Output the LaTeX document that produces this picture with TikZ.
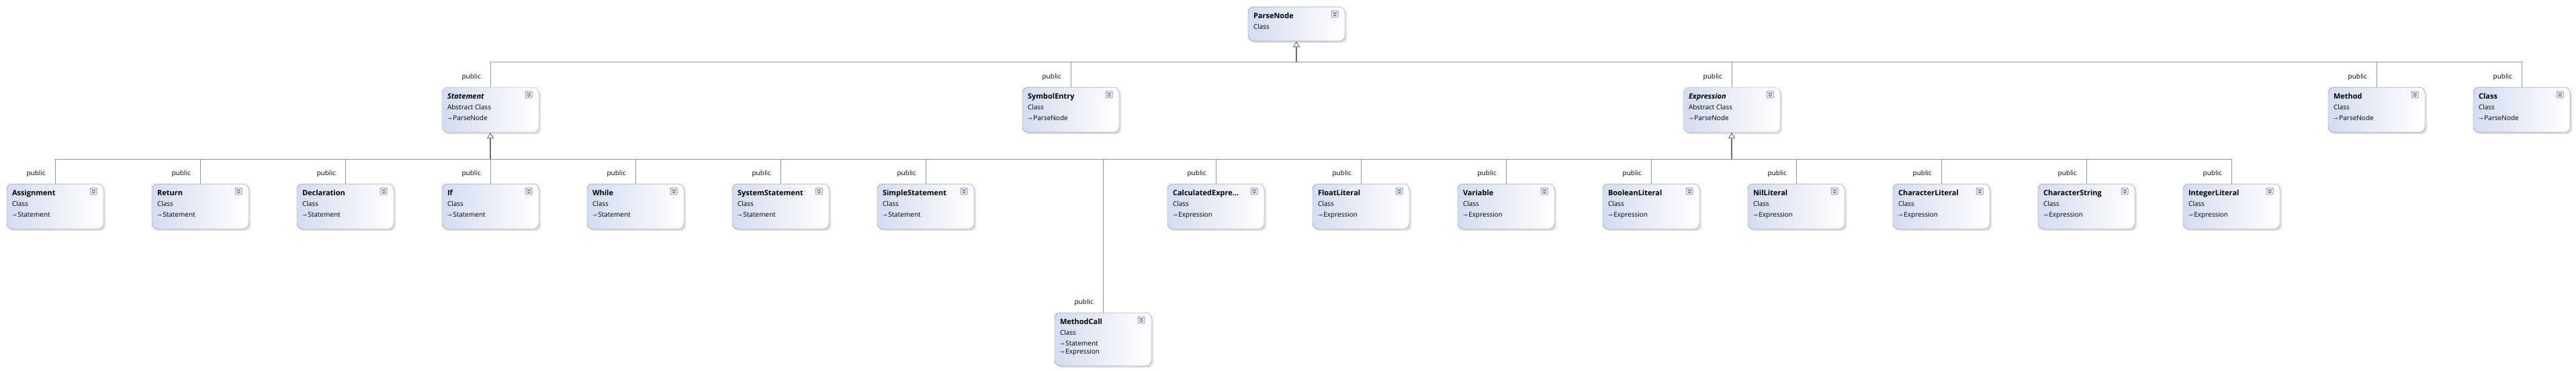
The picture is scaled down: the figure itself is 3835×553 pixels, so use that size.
\documentclass[tikz,border=0pt]{standalone}
\usepackage{fontspec}
\setmainfont{Open Sans}
\newfontfamily\arrowfont{DejaVu Sans}
\usetikzlibrary{positioning,arrows.meta,shadows}

\definecolor{boxfill}{RGB}{212,220,240}
\definecolor{boxline}{RGB}{128,128,128}
\definecolor{wirecol}{RGB}{150,150,150}
\definecolor{stemcol}{RGB}{110,110,105}
\definecolor{iconline}{RGB}{120,140,185}
\definecolor{iconfill}{RGB}{236,241,251}

\newcommand{\inh}{{\arrowfont\fontsize{8}{8}\selectfont ⇾}\,}
\newcommand{\cut}{...}
\newcommand{\cls}[2]{\parbox[t]{128pt}{\raggedright\rule{0pt}{17pt}{\fontsize{11}{16}\selectfont\bfseries #1}\\#2\rule[-18pt]{0pt}{18pt}}}

\tikzset{
	cls/.style={draw=boxline, rounded corners=8pt, left color=boxfill, right color=white,
		inner xsep=8pt, inner ysep=0pt, minimum width=144pt, font=\fontsize{10}{16}\selectfont,
		drop shadow={shadow xshift=3pt, shadow yshift=-3pt, fill=black!25}},
	abstract/.style={cls, dash pattern=on 2pt off 1.5pt},
	wire/.style={draw=wirecol, line width=1pt},
	stem/.style={draw=stemcol, line width=2pt, {Triangle[open, length=9pt, width=10pt, line width=1pt]}-},
	pub/.style={font=\fontsize{10}{12}\selectfont, inner sep=1pt},
	expander/.pic={
		\draw[iconline, fill=iconfill, rounded corners=1.5pt, line width=0.8pt] (-5pt,-5pt) rectangle (5pt,5pt);
		\draw[iconline!60!black, line width=0.9pt] (-2.5pt,2.8pt) -- (0pt,0.6pt) -- (2.5pt,2.8pt)
			(-2.5pt,-0.6pt) -- (0pt,-2.8pt) -- (2.5pt,-0.6pt);
	}
}

\begin{document}
\begin{tikzpicture}[x=1pt, y=-1pt]
	\useasboundingbox (0,0) rectangle (3835,553);

	% root
	\node[cls, anchor=north] (parse) at (1930,10) {\cls{ParseNode}{Class}};
	\coordinate (topbus) at (1930,93);
	\draw[stem] (parse.south) -- (topbus);

	% second row
	\node[abstract, anchor=north] (stmt) at (730,130) {\cls{\itshape Statement}{Abstract Class\\\inh ParseNode}};
	\node[cls, anchor=north] (sym) at (1594,130) {\cls{SymbolEntry}{Class\\\inh ParseNode}};
	\node[abstract, anchor=north] (expr) at (2578,130) {\cls{\itshape Expression}{Abstract Class\\\inh ParseNode}};
	\node[cls, anchor=north] (meth) at (3538,130) {\cls{Method}{Class\\\inh ParseNode}};
	\node[cls, anchor=north] (klass) at (3754,130) {\cls{Class}{Class\\\inh ParseNode}};
	\foreach \nm in {stmt,sym,expr,meth,klass}{
		\draw[wire] (\nm.north) |- (topbus);
		\node[pub, above left=9pt and 13pt of \nm.north] (p\nm) {public};
	}

	\coordinate (stmtbus) at (730,238);
	\coordinate (exprbus) at (2578,238);
	\draw[stem] (stmt.south) -- (stmtbus);
	\draw[stem] (expr.south) -- (exprbus);

	% third row
	\foreach \nm/\x/\cn/\bs in {asg/82/Assignment/stmt, ret/298/Return/stmt, decl/514/Declaration/stmt,
		ifst/730/If/stmt, whl/946/While/stmt, sysst/1162/SystemStatement/stmt, simst/1378/SimpleStatement/stmt,
		calc/1810/CalculatedExpre\cut/expr, flt/2026/FloatLiteral/expr, var/2242/Variable/expr,
		bool/2458/BooleanLiteral/expr, nil/2674/NilLiteral/expr, chr/2890/CharacterLiteral/expr,
		str/3106/CharacterString/expr, int/3322/IntegerLiteral/expr}{
		\node[cls, anchor=north] (\nm) at (\x,274) {\cls{\cn}{Class\\\inh\ifnum\x<1600 Statement\else Expression\fi}};
		\draw[wire] (\nm.north) |- (\bs bus);
		\node[pub, above left=9pt and 13pt of \nm.north] (p\nm) {public};
	}

	% both bases
	\node[cls, anchor=north] (mcall) at (1642,466) {\cls{MethodCall}{Class\\\inh Statement\\[-4pt]\inh Expression}};
	\draw[wire] (mcall.north) |- (stmtbus);
	\draw[wire] (mcall.north) |- (exprbus);
	\node[pub, above left=9pt and 13pt of mcall.north] (pmcall) {public};

	% expand icons
	\foreach \nm in {parse,stmt,sym,expr,meth,klass,asg,ret,decl,ifst,whl,sysst,simst,
		calc,flt,var,bool,nil,chr,str,int,mcall}
		\pic at ([shift={(-15pt,-11pt)}]\nm.north east) {expander};
\end{tikzpicture}
\end{document}
